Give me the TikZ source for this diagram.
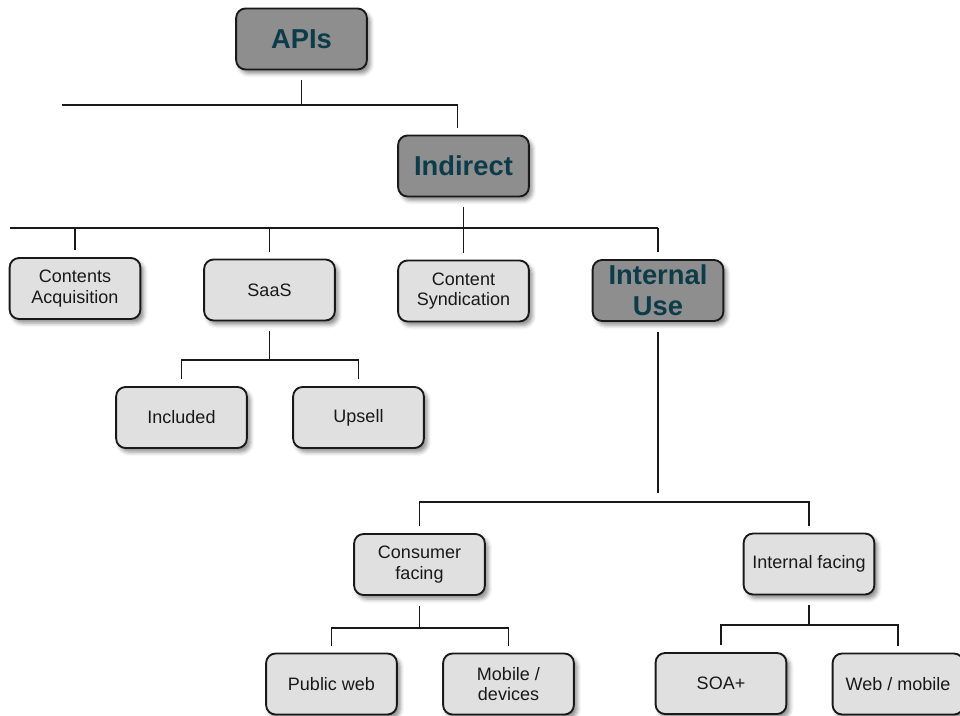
\documentclass[tikz,border=0pt]{standalone}
\usepackage{fontspec}
\setmainfont{Liberation Sans}
\usetikzlibrary{calc}
\usetikzlibrary{shadows.blur}
\definecolor{boxlight}{RGB}{224,224,224}
\definecolor{boxdark}{RGB}{142,142,142}
\definecolor{tealtext}{RGB}{12,60,74}

\begin{document}
\begin{tikzpicture}[x=0.75pt,y=-0.75pt,
  box/.style={rectangle,rounded corners=7pt,draw=black!90,line width=1.4pt,
    minimum width=98pt,minimum height=45.75pt,inner sep=0pt,align=center,
    blur shadow={shadow xshift=2.5pt,shadow yshift=-3pt,shadow blur radius=3pt,shadow opacity=45}},
  leaf/.style={box,fill=boxlight,text=black!90,font=\fontsize{13.5}{15.5}\selectfont},
  hub/.style={box,fill=boxdark,text=tealtext,font=\fontsize{20.5}{23}\selectfont\bfseries},
  bus/.style={line width=1.3pt,draw=black!90},
  fromhub/.style={bus,shorten <=7.5pt},
  tochild/.style={bus,shorten >=5pt}]

\useasboundingbox (0,0) rectangle (960,716);

% boxes
\node [hub] (apis) at (301.5,39) {APIs};
\node [hub] (indirect) at (463.5,166) {Indirect};
\node [leaf] (acq) at (75,288.5) {Contents\\Acquisition};
\node [leaf] (saas) at (269.5,290) {SaaS};
\node [leaf] (synd) at (463.5,291) {Content\\Syndication};
\node [hub] (internal) at (658,290.5) {Internal\\Use};
\node [leaf] (included) at (181.5,417.5) {Included};
\node [leaf] (upsell) at (358.5,417.5) {Upsell};
\node [leaf] (consumer) at (419.5,564.5) {Consumer\\facing};
\node [leaf] (intfacing) at (809,564) {Internal facing};
\node [leaf] (publicweb) at (331.5,684) {Public web};
\node [leaf] (mobile) at (508.5,684) {Mobile /\\devices};
\node [leaf] (soa) at (721,683.5) {SOA+};
\node [leaf] (webmobile) at (898,684) {Web / mobile};

% bus levels
\coordinate (top) at (62,105);
\coordinate (row) at (10,228);
\coordinate (saasbus) at (0,360);
\coordinate (usebus) at (0,502);
\coordinate (consbus) at (0,628);
\coordinate (facebus) at (0,625);
\coordinate (indtop) at ($(indirect.north)+(-6,0)$);

\draw [fromhub] (apis.south) -- (apis.south |- top);
\draw [tochild] (top) -| (indtop);

\draw [fromhub] (indirect.south) -- (indirect.south |- row);
\draw [bus] (row) -- (internal.north |- row);
\foreach \n in {acq,saas,synd,internal}
  \draw [tochild] (\n.north |- row) -- (\n.north);

\draw [fromhub] (saas.south) -- (saas.south |- saasbus);
\draw [tochild] (saas.south |- saasbus) -| (included.north);
\draw [tochild] (saas.south |- saasbus) -| (upsell.north);

\draw [fromhub,shorten >=6.75pt] (internal.south) -- (internal.south |- usebus);
\draw [tochild] (internal.south |- usebus) -| (consumer.north);
\draw [tochild] (internal.south |- usebus) -| (intfacing.north);

\draw [fromhub] (consumer.south) -- (consumer.south |- consbus);
\draw [tochild] (consumer.south |- consbus) -| (publicweb.north);
\draw [tochild] (consumer.south |- consbus) -| (mobile.north);

\draw [fromhub] (intfacing.south) -- (intfacing.south |- facebus);
\draw [tochild] (intfacing.south |- facebus) -| (soa.north);
\draw [tochild] (intfacing.south |- facebus) -| (webmobile.north);

\end{tikzpicture}
\end{document}
